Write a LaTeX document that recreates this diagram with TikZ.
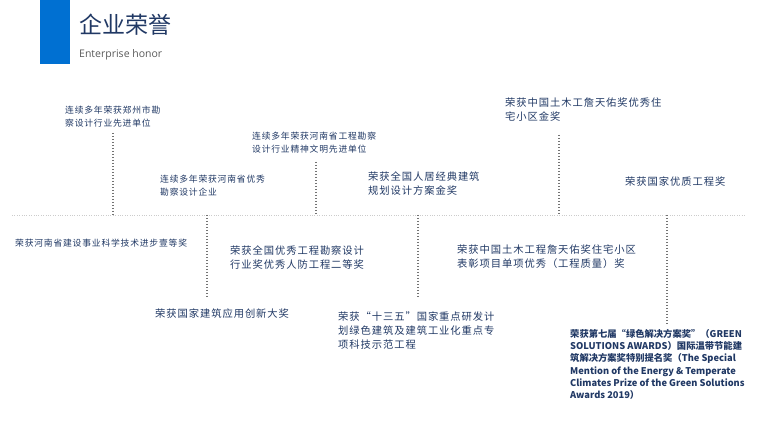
\documentclass[tikz,border=0pt]{standalone}
\usepackage{fontspec}
\setmainfont[LetterSpace=9]{Noto Sans CJK SC}
\newfontfamily\titf{Noto Sans CJK SC}
\newfontfamily\latf{Open Sans}
\begin{document}
\begin{tikzpicture}[x=1pt,y=-1pt,
  txt/.style={anchor=north west,inner sep=0pt,text=navy,align=left,font=\fontsize{8.8}{12.5}\selectfont},
  txtb/.style={anchor=north west,inner sep=0pt,text=navy,align=left,font=\fontsize{10.3}{14}\selectfont},
  vd/.style={draw=gray!90!black,line width=1.4pt,dash pattern=on 1pt off 2pt}]
\definecolor{navy}{HTML}{203864}
\useasboundingbox (0,0) rectangle (780,438);
\fill[fill={rgb,255:red,0;green,112;blue,210}] (40,0) rectangle (70,64);
\node[anchor=west,inner sep=0pt,text=navy,font=\titf\fontsize{23}{26}\selectfont] (t) at (79,25) {企业荣誉};
\node[anchor=west,inner sep=0pt,text=gray!70!black,font=\latf\fontsize{10.5}{12}\selectfont] (st) at (79,55) {Enterprise honor};
\coordinate (hl) at (12,215); \coordinate (hr) at (745,215);
\draw[gray!40,dotted] (hl) -- (hr);
% top
\node[txt] (a1) at (65,106) {连续多年荣获郑州市勘\\察设计行业先进单位};
\coordinate (a1t) at (113,133); \coordinate (a1b) at (113,215);
\draw[vd] (a1t) -- (a1b);
\node[txt] (a2) at (160,175) {连续多年荣获河南省优秀\\勘察设计企业};
\node[txt] (a3) at (252,132) {连续多年荣获河南省工程勘察\\设计行业精神文明先进单位};
\coordinate (a3t) at (316,162); \coordinate (a3b) at (316,215);
\draw[vd] (a3t) -- (a3b);
\node[txtb] (a4) at (368,172) {荣获全国人居经典建筑\\规划设计方案金奖};
\node[txtb] (a5) at (505,98) {荣获中国土木工詹天佑奖优秀住\\宅小区金奖};
\coordinate (a5t) at (559,135); \coordinate (a5b) at (559,215);
\draw[vd] (a5t) -- (a5b);
\node[txtb] (a6) at (625,177) {荣获国家优质工程奖};
% bottom
\node[txt] (b1) at (15,239) {荣获河南省建设事业科学技术进步壹等奖};
\coordinate (b2t) at (207,215); \coordinate (b2b) at (207,298);
\draw[vd] (b2t) -- (b2b);
\node[txtb] (b2) at (230,246) {荣获全国优秀工程勘察设计\\行业奖优秀人防工程二等奖};
\node[txtb] (b3) at (155,309) {荣获国家建筑应用创新大奖};
\coordinate (b4t) at (418,215); \coordinate (b4b) at (418,297);
\draw[vd] (b4t) -- (b4b);
\node[txtb] (b4) at (338,312) {荣获“十三五”国家重点研发计\\划绿色建筑及建筑工业化重点专\\项科技示范工程};
\node[txtb] (b5) at (457,245) {荣获中国土木工程詹天佑奖住宅小区\\表彰项目单项优秀（工程质量）奖};
\coordinate (b6t) at (667,215); \coordinate (b6b) at (667,325);
\draw[vd] (b6t) -- (b6b);
\node[txt,font=\titf\bfseries\fontsize{9.3}{12.3}\selectfont] (b6) at (570,329) {荣获第七届“绿色解决方案奖”（GREEN\\SOLUTIONS AWARDS）国际温带节能建\\筑解决方案奖特别提名奖（The Special\\Mention of the Energy \& Temperate\\Climates Prize of the Green Solutions\\Awards 2019）};
\end{tikzpicture}
\end{document}
